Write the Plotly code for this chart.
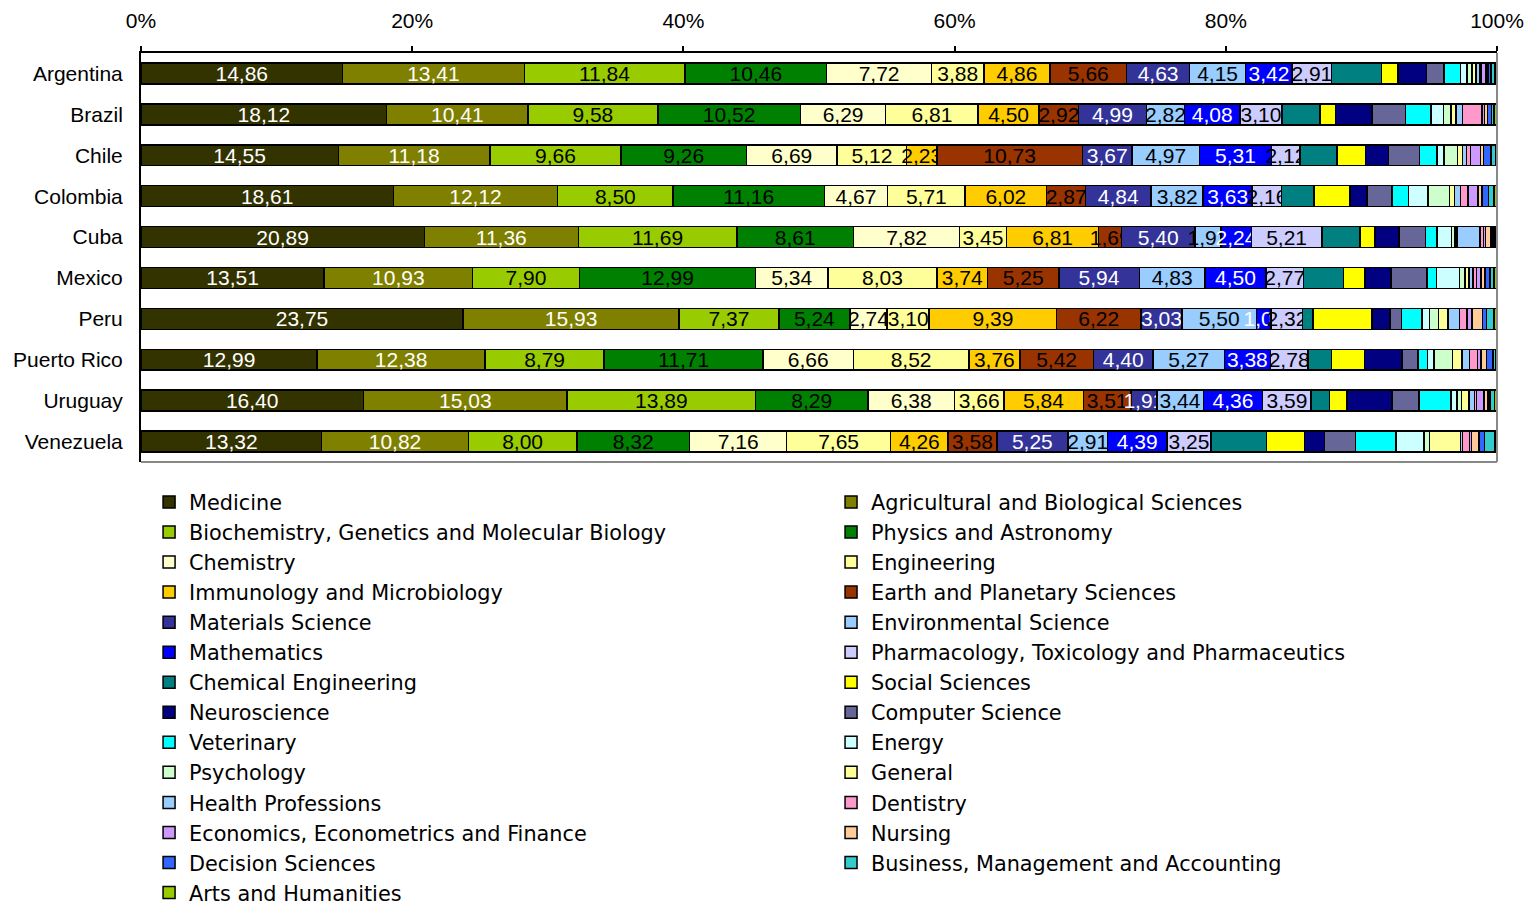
import plotly.graph_objects as go

countries = ["Argentina", "Brazil", "Chile", "Colombia", "Cuba", "Mexico",
             "Peru", "Puerto Rico", "Uruguay", "Venezuela"]

subjects = [
    "Medicine", "Agricultural and Biological Sciences",
    "Biochemistry, Genetics and Molecular Biology", "Physics and Astronomy",
    "Chemistry", "Engineering",
    "Immunology and Microbiology", "Earth and Planetary Sciences",
    "Materials Science", "Environmental Science",
    "Mathematics", "Pharmacology, Toxicology and Pharmaceutics",
    "Chemical Engineering", "Social Sciences",
    "Neuroscience", "Computer Science",
    "Veterinary", "Energy",
    "Psychology", "General",
    "Health Professions", "Dentistry",
    "Economics, Econometrics and Finance", "Nursing",
    "Decision Sciences", "Business, Management and Accounting",
    "Arts and Humanities",
]

colors = [
    "#333300", "#808000", "#99CC00", "#008000", "#FFFFCC", "#FFFF99",
    "#FFCC00", "#993300", "#333399", "#99CCFF", "#0000FF", "#CCCCFF",
    "#008080", "#FFFF00", "#000080", "#666699", "#00FFFF", "#CCFFFF",
    "#CCFFCC", "#FFFF99", "#99CCFF", "#FF99CC", "#CC99FF", "#FFCC99",
    "#3366FF", "#33CCCC", "#99CC00",
]

label_colors = ["white", "white", "black", "black", "black", "black",
                "black", "black", "white", "black", "white", "black"]

argentina = [14.86, 13.41, 11.84, 10.46, 7.72, 3.88, 4.86, 5.66, 4.63, 4.15, 3.42, 2.91,
             3.7, 1.2, 2.1, 1.3, 1.2, 0.5, 0.35, 0.3, 0.3, 0.1, 0.35, 0.15, 0.2, 0.3, 0.15]
brazil = [18.12, 10.41, 9.58, 10.52, 6.29, 6.81, 4.50, 2.92, 4.99, 2.82, 4.08, 3.10,
          2.8, 1.15, 2.7, 2.45, 1.9, 0.9, 0.55, 0.4, 0.45, 1.45, 0.2, 0.2, 0.3, 0.2, 0.2]
chile = [14.55, 11.18, 9.66, 9.26, 6.69, 5.12, 2.23, 10.73, 3.67, 4.97, 5.31, 2.12,
         2.7, 2.1, 1.7, 2.3, 1.3, 0.5, 1.0, 0.35, 0.3, 0.3, 0.75, 0.2, 0.55, 0.35, 0.1]
colombia = [18.61, 12.12, 8.50, 11.16, 4.67, 5.71, 6.02, 2.87, 4.84, 3.82, 3.63, 2.16,
            2.4, 2.65, 1.25, 1.85, 1.2, 1.45, 1.6, 0.35, 0.45, 0.55, 0.75, 0.3, 0.45, 0.4, 0.2]
cuba = [20.89, 11.36, 11.69, 8.61, 7.82, 3.45, 6.81, 1.69, 5.40, 1.92, 2.24, 5.21,
        2.8, 1.1, 1.8, 1.95, 0.85, 1.05, 0.25, 0.15, 1.7, 0.25, 0.15, 0.4, 0.15, 0.15, 0.1]
mexico = [13.51, 10.93, 7.90, 12.99, 5.34, 8.03, 3.74, 5.25, 5.94, 4.83, 4.50, 2.77,
          2.95, 1.6, 1.9, 2.65, 0.7, 1.7, 0.4, 0.3, 0.3, 0.25, 0.35, 0.3, 0.35, 0.3, 0.25]
peru = [23.75, 15.93, 7.37, 5.24, 2.74, 3.10, 9.39, 6.22, 3.03, 5.50, 1.08, 2.32,
        0.75, 4.35, 1.35, 0.85, 1.5, 0.55, 0.65, 0.7, 0.85, 0.55, 0.4, 0.75, 0.3, 0.55, 0.3]
puerto_rico = [12.99, 12.38, 8.79, 11.71, 6.66, 8.52, 3.76, 5.42, 4.40, 5.27, 3.38, 2.78,
               1.75, 2.4, 2.8, 1.15, 0.7, 0.5, 1.35, 0.7, 0.55, 0.6, 0.25, 0.4, 0.5, 0.2, 0.1]
uruguay = [16.40, 15.03, 13.89, 8.29, 6.38, 3.66, 5.84, 3.51, 1.91, 3.44, 4.36, 3.59,
           1.35, 1.3, 3.3, 2.0, 2.35, 0.45, 0.35, 0.55, 0.4, 0.15, 0.55, 0.3, 0.15, 0.3, 0.15]
venezuela = [13.32, 10.82, 8.00, 8.32, 7.16, 7.65, 4.26, 3.58, 5.25, 2.91, 4.39, 3.25,
             4.1, 2.8, 1.45, 2.3, 3.0, 2.05, 0.4, 2.3, 0.15, 0.5, 0.15, 0.55, 0.4, 0.8, 0.15]

tick_vals = [0, 20, 40, 60, 80, 100]
tick_text = ["0%", "20%", "40%", "60%", "80%", "100%"]

rows = [argentina, brazil, chile, colombia, cuba, mexico, peru, puerto_rico, uruguay, venezuela]

FONT = "Liberation Sans, Arial, sans-serif"
LEGEND_FONT = "DejaVu Sans, Liberation Sans, sans-serif"

fig = go.Figure()
for i, name in enumerate(subjects):
    vals = [r[i] for r in rows]
    labelled = i < len(label_colors)
    fig.add_trace(go.Bar(
        y=countries, x=vals, orientation="h", name=name,
        marker=dict(color=colors[i], line=dict(color="black", width=1.5)),
        texttemplate="%{x:.2f}" if labelled else None,
        textposition="inside" if labelled else "none",
        insidetextanchor="middle",
        textangle=0,
        constraintext="none",
        insidetextfont=dict(color=label_colors[i] if labelled else "black", size=21, family=FONT),
        legend="legend" if i % 2 == 0 else "legend2",
        hoverinfo="name+x",
    ))

fig.update_layout(
    width=1525, height=898,
    barmode="stack", bargap=0.49,
    separators=",.",
    paper_bgcolor="white", plot_bgcolor="white",
    margin=dict(l=133, r=36, t=45, b=444, autoexpand=False),
    font=dict(family=FONT, size=21, color="black"),
    uniformtext=dict(minsize=21, mode="show"),
    xaxis=dict(side="top", range=[0, 100], tickvals=tick_vals, ticktext=tick_text,
               showline=True, linecolor="black", linewidth=2, ticks="outside",
               ticklen=5, tickwidth=2, tickcolor="black", showgrid=False, zeroline=False,
               tickfont=dict(size=21), ticklabelstandoff=10, automargin=False),
    yaxis=dict(autorange="reversed", showline=True, linecolor="black", linewidth=2,
               ticks="", showgrid=False, ticklabelstandoff=12, tickfont=dict(size=21),
               automargin=False),
    legend=dict(xref="container", yref="container", x=0.0925, y=0.4722,
                xanchor="left", yanchor="top", traceorder="normal",
                font=dict(size=20.8, family=LEGEND_FONT), bgcolor="rgba(0,0,0,0)", itemwidth=30),
    legend2=dict(xref="container", yref="container", x=0.5397, y=0.4722,
                 xanchor="left", yanchor="top", traceorder="normal",
                 font=dict(size=20.8, family=LEGEND_FONT), bgcolor="rgba(0,0,0,0)", itemwidth=30),
    shapes=[
        dict(type="line", xref="paper", yref="paper", x0=1, x1=1, y0=0, y1=1,
             line=dict(color="#888888", width=2)),
        dict(type="line", xref="paper", yref="paper", x0=0, x1=1, y0=0, y1=0,
             line=dict(color="#888888", width=2)),
    ],
)

fig.write_html("out.html")
